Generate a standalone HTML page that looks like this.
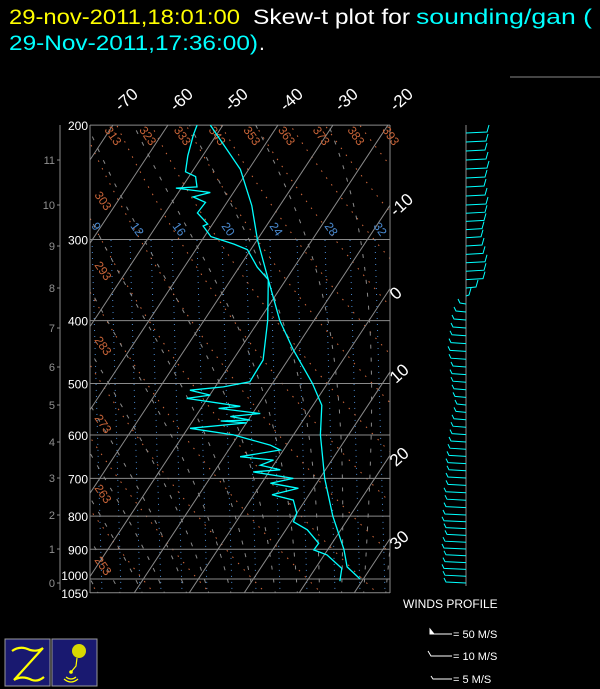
<!DOCTYPE html>
<html><head><meta charset="utf-8"><style>
html,body{margin:0;padding:0;background:#000;}
svg{display:block;font-family:"Liberation Sans",sans-serif;}
</style></head><body>
<svg id="chart" width="600" height="689" viewBox="0 0 600 689" xmlns="http://www.w3.org/2000/svg">
<rect width="600" height="689" fill="#000"/>
<text y="24" font-size="21" lengthAdjust="spacingAndGlyphs"><tspan x="9" textLength="231" lengthAdjust="spacingAndGlyphs" fill="#ffff00">29-nov-2011,18:01:00</tspan><tspan x="253" textLength="157" lengthAdjust="spacingAndGlyphs" fill="#fff">Skew-t plot for</tspan><tspan x="416" textLength="176" lengthAdjust="spacingAndGlyphs" fill="#00ffff">sounding/gan (</tspan></text>
<text y="50" font-size="21"><tspan x="9" textLength="249" lengthAdjust="spacingAndGlyphs" fill="#00ffff">29-Nov-2011,17:36:00)</tspan><tspan x="259" fill="#fff">.</tspan></text>
<line x1="510" y1="77" x2="600" y2="77" stroke="#888" stroke-width="1"/>
<defs><clipPath id="plotclip"><rect x="90" y="125" width="300" height="468"/></clipPath></defs>
<g id="grid" clip-path="url(#plotclip)"></g>
<g id="frame"></g>
<g id="labels"></g>
<g id="profiles" clip-path="url(#plotclip)"></g>
<g id="winds"></g>
<g fill="#fff" font-size="11">
<text x="403" y="608" font-size="12">WINDS PROFILE</text>
<path d="M430 634 H452 M430 634 V629 L434 634 Z" stroke="#fff" fill="#fff" stroke-width="1"/>
<text x="453" y="638">= 50 M/S</text>
<path d="M428 651 L431 656 H452" stroke="#fff" fill="none"/>
<text x="453" y="660">= 10 M/S</text>
<path d="M431 676 L433 679 H452" stroke="#fff" fill="none"/>
<text x="453" y="683">= 5 M/S</text>
</g>
<g>
<rect x="5" y="639" width="45" height="47" fill="#191970" stroke="#999" stroke-width="1"/>
<path d="M12 651 Q20 645 30 650 Q38 652 43 648 L14 680 Q22 675 32 680 Q38 682 44 677" stroke="#ffff00" stroke-width="2.2" fill="none"/>
</g>
<g>
<rect x="52" y="639" width="45" height="47" fill="#191970" stroke="#999" stroke-width="1"/>
<circle cx="79" cy="651" r="7" fill="#d8d800"/>
<path d="M77 658 L76 666 L71 672" stroke="#ffff00" stroke-width="1.2" fill="none"/>
<circle cx="71" cy="672" r="1.8" fill="#ffff00"/>
<path d="M66 677 Q71 681 76 677 M64 679 Q71 685 78 679" stroke="#ffff00" stroke-width="1.2" fill="none"/>
</g>
</svg>
<script>
const sndPressure=[1000,958,900,800,700,600,540,500,444,400,346,300,266,234,200];
const sndTemp=[29.4,25.6,22.9,16.9,10.9,4.9,1.6,-2.7,-10.2,-16.2,-23.2,-30,-35.1,-41.5,-52.3];
const dewPressure=[1008,963,918,902,881,840,816,792,756,742,725,712,700,684,679,668,656,648,633,622,611,600,586,575,571,569,562,556,546,542,527,521,512,506,497,460,400,346,331,311,305,297,286,284,273,263,258,254,250,249,240,236,223,207,200];
const dewTemp=[26.0,24.8,20.5,17.5,17.6,13.9,10.4,10.0,7.8,3.3,7.3,1.6,5.2,-2.9,1.8,-2.4,-0.6,-7.1,-0.6,-3.0,-6.9,-10.9,-19.6,-9.9,-14.9,-9.7,-13.7,-8.6,-16.8,-13.1,-23.8,-19.9,-24.2,-18.5,-14.3,-14.5,-18.4,-23.2,-26.7,-30.6,-33.7,-38.8,-41.5,-40.9,-44.1,-43.9,-46.8,-44.2,-51.0,-47.3,-48.8,-51.2,-52.7,-54.2,-54.7];
const pressureTicks=[200,300,400,500,600,700,800,900,1000,1050];
const heightTicks=[0,1,2,3,4,5,6,7,8,9,10,11];
const heightTickY=[583,549,515,478,442,405,367,328,288,246,205,160];
const isoTopLabels=[-70,-60,-50,-40,-30,-20];
const isoRightLabels=[-10,0,10,20,30];
const thetaTopLabels=[313,323,333,343,353,363,373,383,393];
const thetaLeftLabels=[303,293,283,273,263,253];
const windHeight=[];for(let i=0;i<59;i++)windHeight.push(+(i*0.2).toFixed(1));
const windU=[-20,-21,-22,-21,-20,-22,-21,-19,-20,-22,-21,-20,-19,-20,-18,
-18,-17,-18,-17,-16,-15,-14,-13,-12,
-10,-9,-11,-12,-13,-14,-13,
-15,-16,-15,-14,-13,-12,-10,
-6,3,10,
17,18,19,17,16,15,16,18,19,20,19,18,19,21,20,19,20,21];

const NS="http://www.w3.org/2000/svg";
function yP(p){return 579-282*Math.log(1000/p);}
function xT(T,p){return 580.5+5.5*T-0.66*yP(p);}
function yH(h){for(let i=0;i<heightTicks.length-1;i++){if(h<=heightTicks[i+1]){const f=(h-heightTicks[i]);return heightTickY[i]+f*(heightTickY[i+1]-heightTickY[i]);}}const n=heightTicks.length;return heightTickY[n-1]+(h-heightTicks[n-1])*(heightTickY[n-1]-heightTickY[n-2]);}
function mk(tag,attrs,parent){const e=document.createElementNS(NS,tag);for(const k in attrs)e.setAttribute(k,attrs[k]);parent.appendChild(e);return e;}
const grid=document.getElementById('grid'),frame=document.getElementById('frame'),labels=document.getElementById('labels'),prof=document.getElementById('profiles'),winds=document.getElementById('winds');
const pLevels=[];for(let p=1060;p>=195;p-=5)pLevels.push(p);

[92,111,130,151,172,197,222,246,270,297,325,350,375].forEach(x0=>{
  const l=mk('line',{x1:x0,y1:240,x2:x0+10,y2:593,stroke:'#4a8ad0','stroke-width':1,'stroke-dasharray':'1 5'},grid);
  
  
});
for(let th=233;th<=403;th+=10){
  const pts=pLevels.map(p=>{const T=th*Math.pow(p/1000,0.286)-273.15;return xT(T,p).toFixed(1)+','+yP(p).toFixed(1);});
  const l=mk('polyline',{points:pts.join(' '),fill:'none',stroke:'#d2693c','stroke-width':1,'stroke-dasharray':'1.5 7'},grid);
  
  
}
function es(Tc){return 6.112*Math.exp(17.67*Tc/(Tc+243.5));}
for(let tw=-20;tw<=40;tw+=4){
  let T=tw+273.15,pts=[];
  for(let p=1060;p>=200;p-=2){
    if(p%10===0)pts.push(xT(T-273.15,p).toFixed(1)+','+yP(p).toFixed(1));
    const e=es(T-273.15),rs=0.622*e/(p-e);
    const dTdp=(287*T+2.5e6*rs)/(p*(1004+2.5e6*2.5e6*rs*0.622/(287*T*T)));
    T-=dTdp*2;
  }
  const l=mk('polyline',{points:pts.join(' '),fill:'none',stroke:'#8a8a8a','stroke-width':1,'stroke-dasharray':'4 9'},grid);
  
  
}
for(let T=-120;T<=50;T+=10){
  const l=mk('line',{x1:xT(T,1060),y1:yP(1060),x2:xT(T,195),y2:yP(195),stroke:'#8a8a8a','stroke-width':1},grid);
  
  
}
pressureTicks.forEach(p=>{
  const y=yP(p);
  const l=mk('line',{x1:90,y1:y,x2:390,y2:y,stroke:'#8a8a8a','stroke-width':1},frame);
  
  
  const t=mk('text',{x:88,y:y+(p===1000?1:5),'text-anchor':'end',fill:'#fff','font-size':12},labels);
  t.textContent=p;
  
  
});
const fr=mk('path',{d:'M90 125 V593 M390 125 V593',stroke:'#8a8a8a','stroke-width':1,fill:'none'},frame);


const ha=mk('line',{x1:60,y1:125,x2:60,y2:590,stroke:'#8a8a8a','stroke-width':1},frame);


heightTicks.forEach((h,i)=>{
  const y=yH(h);
  mk('line',{x1:57,y1:y,x2:60,y2:y,stroke:'#8a8a8a'},frame);
  const t=mk('text',{x:55,y:y+4,'text-anchor':'end',fill:'#909090','font-size':11},labels);
  t.textContent=h;
  
  
});
isoTopLabels.forEach(T=>{
  const x=xT(T,200);
  const t=mk('text',{x:x+8,y:112,fill:'#fff','font-size':17,transform:`rotate(-42 ${x+8} 112)`},labels);
  t.textContent=T;
  
  
});
isoRightLabels.forEach(T=>{
  const y=(580.5+5.5*T-390)/0.66;
  const t=mk('text',{x:396,y:y+12,fill:'#fff','font-size':17,transform:`rotate(-42 396 ${y+12})`},labels);
  t.textContent=T;
  
  
});
thetaTopLabels.forEach(th=>{
  const T=th*Math.pow(0.2,0.286)-273.15;
  const x=xT(T,200)+22;
  const t=mk('text',{x:x,y:130,fill:'#c86438','font-size':12,transform:`rotate(55 ${x} 130)`},labels);
  t.textContent=th;
  
  
});
thetaLeftLabels.forEach((th,i)=>{
  const y=[195,265,340,418,488,560][i];
  const t=mk('text',{x:94,y:y,fill:'#c86438','font-size':12,transform:`rotate(55 94 ${y})`},labels);
  t.textContent=th;
  
  
});
[['9',91],['12',130],['16',172],['20',221],['24',269],['28',324],['32',373]].forEach(([s,x])=>{
  const t=mk('text',{x:x,y:226,fill:'#4a8ad0','font-size':12,transform:`rotate(55 ${x} 226)`},labels);
  t.textContent=s;
  
  
});
const tl=mk('polyline',{points:sndPressure.map((p,i)=>xT(sndTemp[i],p).toFixed(1)+','+yP(p).toFixed(1)).join(' '),fill:'none',stroke:'#00ffff','stroke-width':1.3},prof);


const dl=mk('polyline',{points:dewPressure.map((p,i)=>xT(dewTemp[i],p).toFixed(1)+','+yP(p).toFixed(1)).join(' '),fill:'none',stroke:'#00ffff','stroke-width':1.3},prof);


const wa=mk('line',{x1:466,y1:125,x2:466,y2:586,stroke:'#8a8a8a','stroke-width':1},winds);


windHeight.forEach((h,i)=>{
  const y=yH(h),u=windU[i],x2=466+u,dir=u>=0?1:-1,tk=u>=0?8:5;
  const b=mk('path',{d:`M466 ${y.toFixed(1)} L${x2} ${(y-1).toFixed(1)} L${x2+dir*2} ${(y-tk).toFixed(1)}`,stroke:'#00ffff','stroke-width':1,fill:'none'},winds);
  
  
});
</script>
</body></html>
